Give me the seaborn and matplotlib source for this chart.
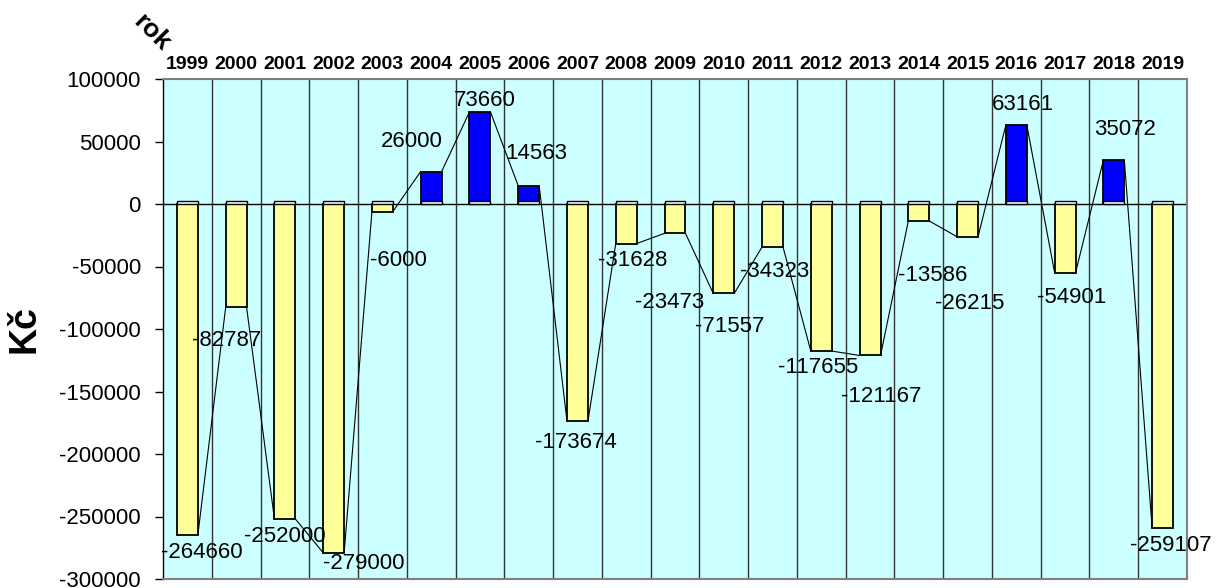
import numpy as np
import pandas as pd
import matplotlib
matplotlib.use("Agg")
import matplotlib.pyplot as plt
import seaborn as sns

# data
years = [str(y) for y in range(1999, 2020)]
values = [-264660, -82787, -252000, -279000, -6000, 26000, 73660, 14563,
          -173674, -31628, -23473, -71557, -34323, -117655, -121167,
          -13586, -26215, 63161, -54901, 35072, -259107]

# label placement (pixels from bar end: right, down)
label_offsets = [(14, 18), (-10, 33), (0, 18), (30, 11), (16, 49), (-19, -30),
                 (5, -11), (8, -32), (-2, 21), (6, 17), (-5, 69), (6, 33),
                 (2, 25), (-3, 16), (11, 41), (14, 55), (2, 67), (7, -21),
                 (7, 25), (11, -31), (8, 18)]

sns.set_theme(style="white")
plt.rcParams['font.family'] = ['Liberation Sans', 'DejaVu Sans']
plt.rcParams['text.color'] = 'black'
plt.rcParams['axes.labelcolor'] = 'black'
plt.rcParams['xtick.color'] = 'black'
plt.rcParams['ytick.color'] = 'black'

df = pd.DataFrame({'rok': years, 'Kc': values})
df['sign'] = np.where(df['Kc'] >= 0, 'plus', 'minus')

fig = plt.figure(figsize=(12.16, 5.88), dpi=100)
ax = fig.add_axes([163 / 1216, 1 - 579 / 588, (1187 - 163) / 1216, 500 / 588])
ax.set_facecolor('#ccffff')

bar_w = 0.43
sns.barplot(data=df, x='rok', y='Kc', hue='sign', dodge=False, width=bar_w,
            palette={'plus': '#0000ff', 'minus': '#ffff99'}, saturation=1,
            edgecolor='black', linewidth=1.3, legend=False, ax=ax, zorder=3)

# thin white strip at zero on each bar
sns.barplot(x=years, y=[2500] * len(years), color='white', width=bar_w,
            saturation=1, edgecolor='black', linewidth=1.0, ax=ax, zorder=4)

# series lines between bar ends
for i in range(len(values) - 1):
    ax.plot([i + bar_w / 2, i + 1 - bar_w / 2], [values[i], values[i + 1]],
            color='black', lw=0.8, zorder=5)

for i, v in enumerate(values):
    dx, dy = label_offsets[i]
    ax.annotate(str(v), xy=(i, v), xytext=(dx, -dy), textcoords='offset pixels',
                ha='center', va='center', fontsize=16, color='black', zorder=6)

ax.axhline(0, color='black', lw=1, zorder=2)

ax.set_xlim(-0.5, len(years) - 0.5)
ax.set_ylim(-300000, 100000)
yt = list(range(-300000, 100001, 50000))
ax.set_yticks(yt)
ax.set_yticklabels([str(t) for t in yt], fontsize=16)
ax.tick_params(axis='y', left=True, length=6, width=1, pad=10, color='black')

ax.xaxis.tick_top()
ax.set_xticks(range(len(years)))
ax.set_xticklabels(years, fontsize=14, fontweight='bold')
ax.tick_params(axis='x', top=False, bottom=False, length=0, pad=4)
ax.set_xticks(np.arange(0.5, len(years) - 0.5, 1), minor=True)
ax.grid(which='minor', axis='x', color='#333333', lw=1, zorder=1)
ax.tick_params(axis='x', which='minor', length=0)
ax.set_xlabel('')
ax.set_ylabel('Kč', fontsize=27, fontweight='bold', labelpad=12)

for s in ['top', 'right', 'bottom']:
    ax.spines[s].set_color('#808080')
    ax.spines[s].set_linewidth(1.5)
ax.spines['left'].set_color('black')
ax.spines['left'].set_linewidth(1)

fig.text(152 / 1216, 1 - 33 / 588, 'rok', rotation=-45, ha='center', va='center',
         fontsize=19, fontweight='bold')

fig.savefig('out.png', dpi=100)
